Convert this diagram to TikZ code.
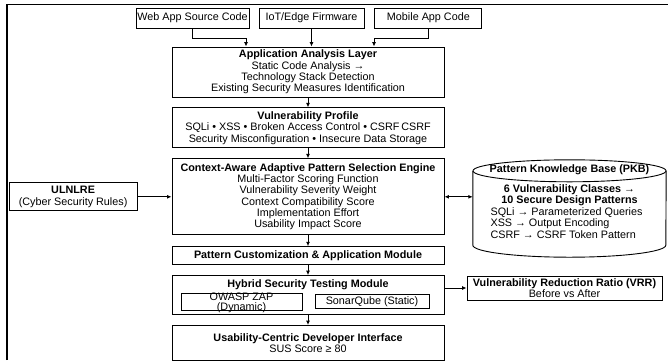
\documentclass[tikz,border=0pt]{standalone}
\usepackage{fontspec}
\setmainfont{Liberation Sans}
\usetikzlibrary{arrows.meta,positioning}

\begin{document}
\begin{tikzpicture}[
   node distance=10pt and 34pt,
   every node/.style={font=\fontsize{10.8}{11.3}\selectfont},
   layer/.style={draw, line width=0.9pt, align=center, minimum width=272pt,
      inner sep=1pt},
   source/.style={draw, line width=0.9pt, minimum height=20pt, inner sep=1pt},
   tool/.style={draw, line width=0.9pt, align=center, inner sep=0pt,
      minimum height=14pt},
   sidebox/.style={draw, line width=0.9pt, align=center, inner sep=1pt},
   arrow/.style={-{Latex[length=4.5pt,width=4pt]}, line width=0.9pt},
   dblarrow/.style={{Latex[length=4.5pt,width=4pt]}-{Latex[length=4.5pt,width=4pt]},
      line width=0.9pt}
]
\useasboundingbox (0,0) rectangle (668pt,-360pt);
\draw[line width=1.3pt] (7pt,-360pt) -- (7pt,-4.5pt) -- (668pt,-4.5pt);

% inputs
\node[source, minimum width=105pt] (iot) at (311.5pt,-18pt) {IoT/Edge Firmware};
\node[source, minimum width=113pt, left=9pt of iot] (web) {Web App Source Code};
\node[source, minimum width=107pt, right=10pt of iot] (mobile) {Mobile App Code};

% main column
\node[layer, minimum height=50pt] (app) at (308pt,-72pt)
   {\textbf{Application Analysis Layer}\\Static Code Analysis →\\
    Technology Stack Detection\\Existing Security Measures Identification};
\node[layer, minimum height=40pt, below=of app] (vuln)
   {\textbf{Vulnerability Profile}\\SQLi • XSS • Broken Access Control • CSRF\,CSRF\\
    Security Misconfiguration • Insecure Data Storage};
\node[layer, minimum height=76pt, below=of vuln] (engine)
   {\textbf{Context-Aware Adaptive Pattern Selection Engine}\\Multi-Factor Scoring Function\\
    Vulnerability Severity Weight\\Context Compatibility Score\\Implementation Effort\\
    Usability Impact Score};
\node[layer, minimum height=18pt, below=11pt of engine] (custom)
   {\textbf{Pattern Customization \& Application Module}};
\node[layer, minimum height=39pt, below=of custom] (hyb) {};
\node[anchor=north, inner sep=1pt] (hybtitle) at ([yshift=-3pt]hyb.north)
   {\textbf{Hybrid Security Testing Module}};
\node[tool, minimum width=121pt, minimum height=17pt] (zap)
   at ([xshift=-66.5pt,yshift=-6.5pt]hyb.center) {};
\node[align=center, inner sep=0pt] (zaptext) at ([yshift=-1.5pt]zap.center)
   {OWASP ZAP\\[-1.5pt](Dynamic)};
\node[tool, minimum width=114pt] (sonar) at ([xshift=64pt,yshift=-6.5pt]hyb.center)
   {SonarQube (Static)};
\node[layer, minimum height=35pt, below=of hyb] (ui)
   {\textbf{Usability-Centric Developer Interface}\\SUS Score ≥ 80};

% side boxes
\node[sidebox, minimum width=128pt, minimum height=28pt, left=34pt of engine] (rules)
   {\textbf{ULNLRE}\\(Cyber Security Rules)};
\node[minimum width=193pt, minimum height=74pt, inner sep=0pt] (pkb) at (569.5pt,-208pt) {};
\draw[line width=0.9pt] (pkb.north west) -- (pkb.south west)
   arc[start angle=180, end angle=360, x radius=96.5pt, y radius=12pt] -- (pkb.north east);
\draw[line width=0.9pt] (pkb.north) ellipse[x radius=96.5pt, y radius=11pt];
\node[inner sep=1pt] (pkbtitle) at ([yshift=1pt]pkb.north)
   {\textbf{Pattern Knowledge Base (PKB)}};
\node[align=center, inner sep=0pt] (pkbhead) at ([yshift=12.5pt]pkb.center)
   {\textbf{6 Vulnerability Classes →}\\\textbf{10 Secure Design Patterns}};
\node[align=left, inner sep=0pt] (pkblist) at ([xshift=-3pt,yshift=-15pt]pkb.center)
   {SQLi → Parameterized Queries\\XSS → Output Encoding\\CSRF → CSRF Token Pattern};
\node[sidebox, minimum width=195pt, minimum height=24pt] (vrr) at (564.5pt,-288pt)
   {\textbf{Vulnerability Reduction Ratio (VRR)}\\Before vs After};

% connectors
\draw[arrow] (web.south) -- ++(0,-9.5pt) -| ([xshift=-62pt]app.north);
\draw[arrow] (iot.south) -- (iot.south |- app.north);
\draw[arrow] (mobile.south) -- ++(0,-9.5pt) -| ([xshift=66pt]app.north);
\draw[arrow] (app) -- (vuln);
\draw[arrow] (vuln) -- (engine);
\draw[arrow] (engine) -- (custom);
\draw[arrow] (custom) -- (hyb);
\draw[arrow] (hyb) -- (ui);
\draw[arrow] (rules) -- (engine);
\draw[dblarrow] (engine.east) -- (engine.east -| pkb.west);
\draw[arrow] (hyb.east |- vrr.west) -- (vrr.west);
\end{tikzpicture}
\end{document}
